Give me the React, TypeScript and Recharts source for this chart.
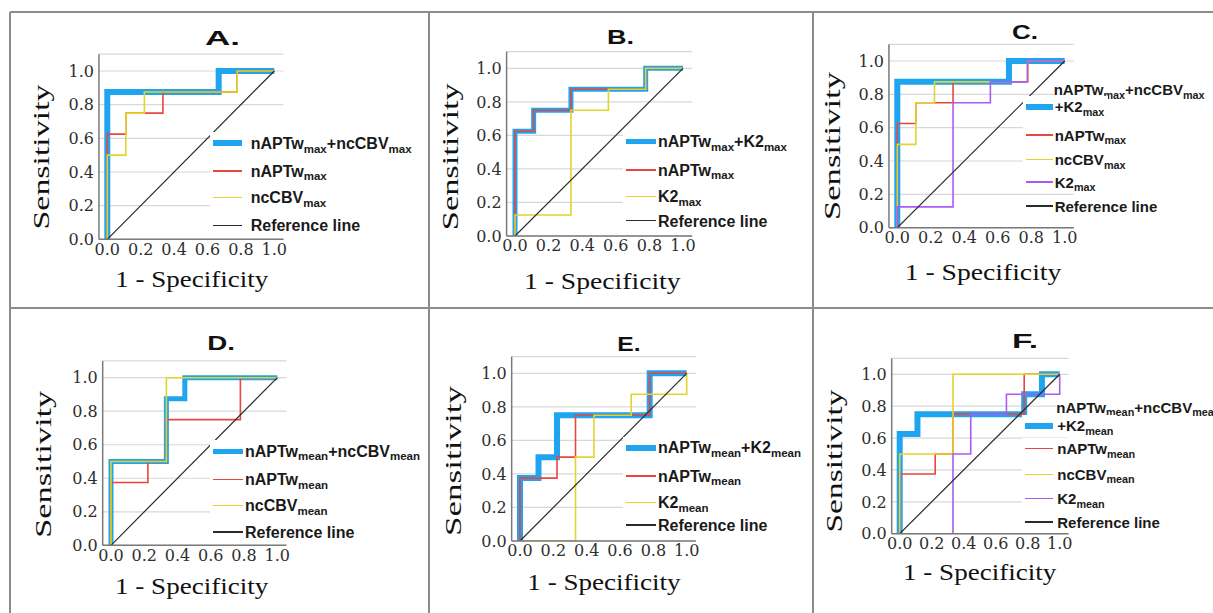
import React from 'react';
import { LineChart, Line, XAxis, YAxis, CartesianGrid, Legend } from 'recharts';

// ---------- axis ticks ----------
const X_TICKS = [0, 0.2, 0.4, 0.6, 0.8, 1.0];
const Y_TICKS = [0, 0.2, 0.4, 0.6, 0.8, 1.0];

// ---------- ROC curves: [1 - specificity, sensitivity] ----------
const referenceLine: [number, number][] = [[0, 0], [1, 1]];

const nAPTwMax: [number, number][] = [[0, 0], [0, 0.625], [0.111, 0.625], [0.111, 0.75], [0.333, 0.75], [0.333, 0.875], [0.778, 0.875], [0.778, 1], [1, 1]];
const ncCBVMax: [number, number][] = [[0, 0], [0, 0.5], [0.111, 0.5], [0.111, 0.75], [0.222, 0.75], [0.222, 0.875], [0.778, 0.875], [0.778, 1], [1, 1]];
const k2Max: [number, number][] = [[0, 0], [0, 0.125], [0.333, 0.125], [0.333, 0.75], [0.556, 0.75], [0.556, 0.875], [0.778, 0.875], [0.778, 1], [1, 1]];
const nAPTwMaxNcCBVMax: [number, number][] = [[0, 0], [0, 0.875], [0.667, 0.875], [0.667, 1], [1, 1]];
const nAPTwMaxK2Max: [number, number][] = [[0, 0], [0, 0.625], [0.111, 0.625], [0.111, 0.75], [0.333, 0.75], [0.333, 0.875], [0.778, 0.875], [0.778, 1], [1, 1]];
const nAPTwMaxNcCBVMaxK2Max: [number, number][] = [[0, 0], [0, 0.875], [0.667, 0.875], [0.667, 1], [1, 1]];

const nAPTwMean: [number, number][] = [[0, 0], [0, 0.375], [0.222, 0.375], [0.222, 0.5], [0.333, 0.5], [0.333, 0.75], [0.778, 0.75], [0.778, 1], [1, 1]];
const ncCBVMean: [number, number][] = [[0, 0], [0, 0.5], [0.333, 0.5], [0.333, 1], [1, 1]];
const k2Mean: [number, number][] = [[0, 0], [0.333, 0], [0.333, 0.5], [0.444, 0.5], [0.444, 0.75], [0.667, 0.75], [0.667, 0.875], [1, 0.875], [1, 1]];
const nAPTwMeanNcCBVMean: [number, number][] = [[0, 0], [0, 0.5], [0.333, 0.5], [0.333, 0.875], [0.444, 0.875], [0.444, 1], [1, 1]];
const nAPTwMeanK2Mean: [number, number][] = [[0, 0], [0, 0.375], [0.111, 0.375], [0.111, 0.5], [0.222, 0.5], [0.222, 0.75], [0.778, 0.75], [0.778, 1], [1, 1]];
const nAPTwMeanNcCBVMeanK2Mean: [number, number][] = [[0, 0], [0, 0.625], [0.111, 0.625], [0.111, 0.75], [0.778, 0.75], [0.778, 0.875], [0.889, 0.875], [0.889, 1], [1, 1]];

// ---------- titles / labels ----------
const PANEL_TITLES = ['A.', 'B.', 'C.', 'D.', 'E.', 'F.'];
const Y_LABEL = 'Sensitivity';
const X_LABEL = '1 - Specificity';

// ---------- styles ----------
const BLUE = '#1fa4f0';
const RED = '#e8463e';
const YELLOW = '#e2d42c';
const PURPLE = '#a95cf2';
const REF = '#2a2a2a';
const BORDER = '#8c8c8c';

const XMIN = -0.05;
const XMAX = 1.055;
const YMAX = 1.1;
const YW = 40;
const XH = 30;

type Series = { name: string; data: [number, number][]; color: string; width: number };
type Panel = {
  cx: number; cy: number; cw: number; ch: number;
  x0: number; x1: number; y0: number; y1: number;
  title: { x: number; y: number; len: number };
  ylab: { x: number; y: number; len: number };
  xlab: { x: number; y: number; len: number };
  legend: { x: number; textX: number; rows: number[]; line1?: number; fs: number; sw: number };
  series: Series[];
};

const ref = (): Series => ({ name: 'Reference line', data: referenceLine, color: REF, width: 1.2 });

const PANELS: Panel[] = [
  {
    cx: 10, cy: 12, cw: 419, ch: 296,
    x0: 107.3, x1: 274.3, y0: 239.3, y1: 71,
    title: { x: 222.5, y: 38, len: 35 },
    ylab: { x: 43, y: 157, len: 145 },
    xlab: { x: 191.7, y: 281, len: 153 },
    legend: { x: 213, textX: 250.7, rows: [143.3, 171, 197.5, 225.3], fs: 16, sw: 29 },
    series: [
      { name: 'nAPTw_max+ncCBV_max', data: nAPTwMaxNcCBVMax, color: BLUE, width: 6 },
      { name: 'nAPTw_max', data: nAPTwMax, color: RED, width: 1.6 },
      { name: 'ncCBV_max', data: ncCBVMax, color: YELLOW, width: 1.6 },
      ref(),
    ],
  },
  {
    cx: 429, cy: 12, cw: 384, ch: 296,
    x0: 515, x1: 683, y0: 236, y1: 68.3,
    title: { x: 620.5, y: 36.7, len: 27 },
    ylab: { x: 452.3, y: 156.7, len: 147 },
    xlab: { x: 602.3, y: 283, len: 156.7 },
    legend: { x: 625.7, textX: 658, rows: [141.7, 170, 196.7, 220.7], fs: 16, sw: 30 },
    series: [
      { name: 'nAPTw_max+K2_max', data: nAPTwMaxK2Max, color: BLUE, width: 5 },
      { name: 'nAPTw_max', data: nAPTwMax, color: RED, width: 1.6 },
      { name: 'K2_max', data: k2Max, color: YELLOW, width: 1.6 },
      ref(),
    ],
  },
  {
    cx: 813, cy: 12, cw: 400, ch: 296,
    x0: 897.3, x1: 1064.7, y0: 227.7, y1: 61,
    title: { x: 1025, y: 32, len: 26 },
    ylab: { x: 834.7, y: 146, len: 148 },
    xlab: { x: 983, y: 274, len: 156.7 },
    legend: { x: 1026.3, textX: 1054.7, rows: [106.7, 135, 159.5, 182, 206], line1: 90, fs: 15, sw: 27 },
    series: [
      { name: 'nAPTw_max+ncCBV_max\n+K2_max', data: nAPTwMaxNcCBVMaxK2Max, color: BLUE, width: 6 },
      { name: 'nAPTw_max', data: nAPTwMax, color: RED, width: 1.6 },
      { name: 'ncCBV_max', data: ncCBVMax, color: YELLOW, width: 1.6 },
      { name: 'K2_max', data: k2Max, color: PURPLE, width: 1.6 },
      ref(),
    ],
  },
  {
    cx: 10, cy: 308, cw: 419, ch: 305,
    x0: 111, x1: 277.3, y0: 545.3, y1: 377.7,
    title: { x: 221, y: 343, len: 27.7 },
    ylab: { x: 45, y: 464.3, len: 147 },
    xlab: { x: 191.7, y: 588.5, len: 153.3 },
    legend: { x: 213, textX: 245, rows: [451, 479.3, 505.3, 532], fs: 16, sw: 30 },
    series: [
      { name: 'nAPTw_mean+ncCBV_mean', data: nAPTwMeanNcCBVMean, color: BLUE, width: 5 },
      { name: 'nAPTw_mean', data: nAPTwMean, color: RED, width: 1.6 },
      { name: 'ncCBV_mean', data: ncCBVMean, color: YELLOW, width: 1.6 },
      ref(),
    ],
  },
  {
    cx: 429, cy: 308, cw: 384, ch: 305,
    x0: 520, x1: 686.7, y0: 541, y1: 373.3,
    title: { x: 629, y: 344.3, len: 23.3 },
    ylab: { x: 455.7, y: 461, len: 150 },
    xlab: { x: 604, y: 584.3, len: 153.3 },
    legend: { x: 625.7, textX: 658, rows: [447.7, 476, 502.7, 525], fs: 16, sw: 30 },
    series: [
      { name: 'nAPTw_mean+K2_mean', data: nAPTwMeanK2Mean, color: BLUE, width: 6 },
      { name: 'nAPTw_mean', data: nAPTwMean, color: RED, width: 1.6 },
      { name: 'K2_mean', data: k2Mean, color: YELLOW, width: 1.6 },
      ref(),
    ],
  },
  {
    cx: 813, cy: 308, cw: 400, ch: 305,
    x0: 899.7, x1: 1059.7, y0: 533.7, y1: 374.3,
    title: { x: 1025, y: 341, len: 26 },
    ylab: { x: 836.3, y: 461, len: 143 },
    xlab: { x: 979.7, y: 574.3, len: 153.3 },
    legend: { x: 1024.7, textX: 1057.3, rows: [425.5, 448.7, 474.3, 498.7, 522], line1: 407.7, fs: 15, sw: 28 },
    series: [
      { name: 'nAPTw_mean+ncCBV_mean\n+K2_mean', data: nAPTwMeanNcCBVMeanK2Mean, color: BLUE, width: 6 },
      { name: 'nAPTw_mean', data: nAPTwMean, color: RED, width: 1.6 },
      { name: 'ncCBV_mean', data: ncCBVMean, color: YELLOW, width: 1.6 },
      { name: 'K2_mean', data: k2Mean, color: PURPLE, width: 1.6 },
      ref(),
    ],
  },
];

const toPts = (arr: [number, number][]) => arr.map(([x, y]) => ({ x, y }));
const fmt = (v: number) => Number(v).toFixed(1);

const SANS = '"Liberation Sans", Arial, sans-serif';
const SERIF = '"Liberation Serif", "Times New Roman", serif';
const TICK_SERIF = '"DejaVu Serif", serif';

const XTick = (props: any) => {
  const { x, y, payload } = props;
  return (
    <text x={x} y={y} dy="0.71em" textAnchor="middle" fontFamily={TICK_SERIF} fontSize={16} fill="#2e2e2e">
      {fmt(payload.value)}
    </text>
  );
};

const YTick = (props: any) => {
  const { x, y, payload } = props;
  return (
    <text x={x} y={y} dy="0.355em" textAnchor="end" fontFamily={TICK_SERIF} fontSize={16} fill="#2e2e2e">
      {fmt(payload.value)}
    </text>
  );
};

function LegendText({ text, fs }: { text: string; fs: number }) {
  const parts = text.split(/(_[a-z]+)/);
  return (
    <>
      {parts.map((p, i) =>
        p.startsWith('_') ? (
          <span key={i} style={{ fontSize: fs * 0.72, position: 'relative', top: fs * 0.24 }}>{p.slice(1)}</span>
        ) : (
          <span key={i}>{p}</span>
        )
      )}
    </>
  );
}

function makeLegend(panel: Panel) {
  return (props: any) => {
    const payload: any[] = props.payload || [];
    const L = panel.legend;
    const textStyle: React.CSSProperties = {
      fontFamily: SANS, fontWeight: 700, fontSize: L.fs, color: '#1a1a1a', whiteSpace: 'nowrap', lineHeight: '20px',
    };
    return (
      <div style={{ position: 'relative', width: panel.cw, height: panel.ch }}>
        {panel.series.map((s, i) => {
          const p = payload.find((q) => q.value === s.name);
          const color = (p && p.color) || s.color;
          const lines = s.name.split('\n');
          const rowY = L.rows[i] - panel.cy;
          const last = lines[lines.length - 1];
          return (
            <React.Fragment key={s.name}>
              {lines.length > 1 && L.line1 !== undefined && (
                <div
                  style={{
                    position: 'absolute', left: L.textX - panel.cx - 1, top: L.line1 - panel.cy - 10, height: 20,
                    background: '#fff', paddingRight: 4, ...textStyle,
                  }}
                >
                  <LegendText text={lines[0]} fs={L.fs} />
                </div>
              )}
              <div
                style={{
                  position: 'absolute', left: L.x - panel.cx - 3, top: rowY - 11, height: 22,
                  display: 'flex', alignItems: 'center', background: '#fff', paddingLeft: 3, paddingRight: 4,
                }}
              >
                <div style={{ width: L.sw, height: Math.max(s.width, 1.5), background: color }} />
                <div style={{ width: L.textX - L.x - L.sw }} />
                <div style={{ ...textStyle, position: 'relative', top: 1 }}>
                  <LegendText text={last} fs={L.fs} />
                </div>
              </div>
            </React.Fragment>
          );
        })}
      </div>
    );
  };
}

function RocPanel({ panel }: { panel: Panel }) {
  const ux = panel.x1 - panel.x0;
  const uy = panel.y0 - panel.y1;
  const pl = panel.x0 + XMIN * ux;
  const pr = panel.x0 + XMAX * ux;
  const pt = panel.y0 - YMAX * uy;
  const pb = panel.y0;
  const margin = {
    left: pl - panel.cx - YW,
    right: panel.cx + panel.cw - pr,
    top: pt - panel.cy,
    bottom: panel.cy + panel.ch - pb - XH,
  };
  return (
    <div style={{ position: 'absolute', left: panel.cx, top: panel.cy }}>
      <LineChart width={panel.cw} height={panel.ch} margin={margin}>
        <CartesianGrid horizontal vertical={false} stroke="#d8d8d8" strokeWidth={1.2} />
        <XAxis
          type="number" dataKey="x" domain={[XMIN, XMAX]} ticks={X_TICKS}
          allowDataOverflow interval={0} height={XH} tickLine={false} tickSize={0} tickMargin={4}
          axisLine={{ stroke: '#7a7a7a', strokeWidth: 1.5 }} tick={(p: any) => <XTick {...p} />}
        />
        <YAxis
          type="number" dataKey="y" domain={[0, YMAX]} ticks={Y_TICKS}
          allowDataOverflow interval={0} width={YW} tickLine={false} tickSize={0} tickMargin={5}
          axisLine={{ stroke: '#7a7a7a', strokeWidth: 1.5 }} tick={(p: any) => <YTick {...p} />}
        />
        {panel.series.map((s) => (
          <Line
            key={s.name} name={s.name} data={toPts(s.data)} dataKey="y" type="linear"
            stroke={s.color} strokeWidth={s.width} dot={false} activeDot={false}
            isAnimationActive={false} legendType="line"
          />
        ))}
        <Legend
          layout="vertical" align="center" verticalAlign="middle"
          wrapperStyle={{ left: 0, top: 0, width: panel.cw, height: panel.ch, pointerEvents: 'none' }}
          content={makeLegend(panel)}
        />
      </LineChart>
    </div>
  );
}

export default function App() {
  return (
    <div style={{ position: 'fixed', left: 0, top: 0, width: 1213, height: 613, overflow: 'hidden', background: '#fff' }}>
      {PANELS.map((p, i) => (
        <RocPanel key={i} panel={p} />
      ))}
      <svg width={1213} height={613} style={{ position: 'absolute', left: 0, top: 0, pointerEvents: 'none' }}>
        {PANELS.map((p, i) => (
          <g key={i}>
            <text
              x={p.title.x} y={p.title.y + 7} textAnchor="middle" fontFamily={SANS} fontWeight={700}
              fontSize={20} fill="#111" textLength={p.title.len} lengthAdjust="spacingAndGlyphs"
            >
              {PANEL_TITLES[i]}
            </text>
            <text
              transform={`translate(${p.ylab.x + 5.5},${p.ylab.y}) rotate(-90)`} textAnchor="middle"
              fontFamily={SERIF} fontSize={23} fill="#111" textLength={p.ylab.len} lengthAdjust="spacingAndGlyphs"
            >
              {Y_LABEL}
            </text>
            <text
              x={p.xlab.x} y={p.xlab.y + 5.5} textAnchor="middle" fontFamily={SERIF} fontSize={23} fill="#111"
              textLength={p.xlab.len} lengthAdjust="spacingAndGlyphs"
            >
              {X_LABEL}
            </text>
          </g>
        ))}
        {/* panel borders */}
        <line x1={10} y1={12} x2={1213} y2={12} stroke={BORDER} strokeWidth={2} />
        <line x1={10} y1={308} x2={1213} y2={308} stroke={BORDER} strokeWidth={2} />
        <line x1={10} y1={12} x2={10} y2={613} stroke={BORDER} strokeWidth={2} />
        <line x1={429} y1={12} x2={429} y2={613} stroke={BORDER} strokeWidth={2} />
        <line x1={813} y1={12} x2={813} y2={613} stroke={BORDER} strokeWidth={2} />
      </svg>
    </div>
  );
}
